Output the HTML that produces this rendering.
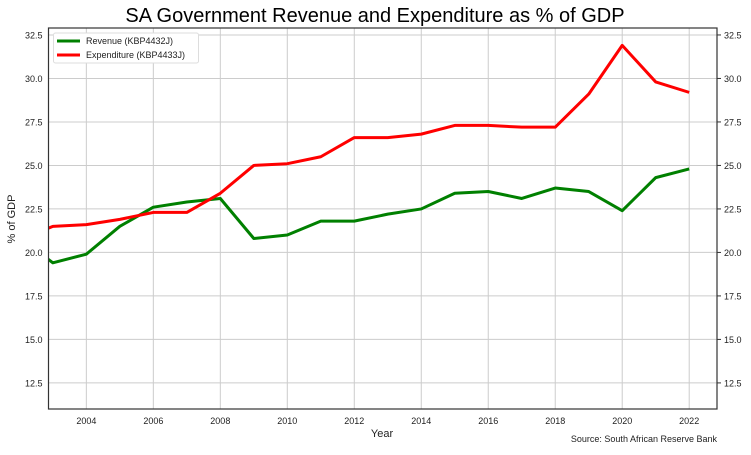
<!DOCTYPE html>
<html><head><meta charset="utf-8"><style>
body{margin:0;background:#fff;font-family:"Liberation Sans",sans-serif;}
svg text{font-family:"Liberation Sans",sans-serif;}
</style></head><body>
<svg id="c" width="751" height="450" xmlns="http://www.w3.org/2000/svg">
<rect width="751" height="450" fill="#fff"/>
<text x="375" y="22" font-size="20" text-anchor="middle" fill="#000">SA Government Revenue and Expenditure as % of GDP</text>
<defs><clipPath id="cp"><rect x="48.5" y="28" width="668.5" height="381"/></clipPath></defs>
<g id="grid"></g>
<g id="lines" clip-path="url(#cp)"></g>
<rect x="48.5" y="28" width="668.5" height="381" fill="none" stroke="#333" stroke-width="1.2"/>
<g id="ticks"></g>
<text x="382" y="437" font-size="11" text-anchor="middle" fill="#222">Year</text>
<text x="15" y="219" font-size="11" text-anchor="middle" fill="#222" transform="rotate(-90 15 219)">% of GDP</text>
<text x="717" y="442" font-size="9" text-anchor="end" fill="#222">Source: South African Reserve Bank</text>
<g>
<rect x="53.5" y="33" width="145" height="30" rx="2" fill="#fff" stroke="#ddd"/>
<line x1="57" y1="41" x2="80" y2="41" stroke="#008000" stroke-width="3"/>
<text x="86" y="44" font-size="9" fill="#222">Revenue (KBP4432J)</text>
<line x1="57" y1="55" x2="80" y2="55" stroke="#ff0000" stroke-width="3"/>
<text x="86" y="58" font-size="9" fill="#222">Expenditure (KBP4433J)</text>
</g>
</svg>
<script>
const years=[2002,2003,2004,2005,2006,2007,2008,2009,2010,2011,2012,2013,2014,2015,2016,2017,2018,2019,2020,2021,2022];
const revenue=[20.9,19.4,19.9,21.5,22.6,22.9,23.1,20.8,21.0,21.8,21.8,22.2,22.5,23.4,23.5,23.1,23.7,23.5,22.4,24.3,24.8];
const expenditure=[20.7,21.5,21.6,21.9,22.3,22.3,23.4,25.0,25.1,25.5,26.6,26.6,26.8,27.3,27.3,27.2,27.2,29.1,31.9,29.8,29.2];
const yTicks=[12.5,15.0,17.5,20.0,22.5,25.0,27.5,30.0,32.5];
const xTicks=[2004,2006,2008,2010,2012,2014,2016,2018,2020,2022];
const NS="http://www.w3.org/2000/svg";
const X0=48.5,X1=717,Y0=409,Y1=28,xmin=2002.87,xmax=2022.83,ymin=11.0,ymax=32.9;
const xs=v=>X0+(v-xmin)/(xmax-xmin)*(X1-X0);
const ys=v=>Y0-(v-ymin)/(ymax-ymin)*(Y0-Y1);
function mk(t,a,p){const e=document.createElementNS(NS,t);for(const k in a)e.setAttribute(k,a[k]);p.appendChild(e);return e;}
const g=document.getElementById('grid'),tk=document.getElementById('ticks'),ln=document.getElementById('lines');
yTicks.forEach(v=>{const y=ys(v);
const l=mk('line',{x1:X0,x2:X1,y1:y,y2:y,stroke:'#cccccc','stroke-width':1},g);


const t=mk('text',{x:X0-6,y:y+3.5,'font-size':9,'text-anchor':'end',fill:'#222'},tk);t.textContent=v.toFixed(1);


const m=mk('line',{x1:X1,x2:X1+4,y1:y,y2:y,stroke:'#333'},tk);


const t2=mk('text',{x:X1+7,y:y+3.5,'font-size':9,fill:'#222'},tk);t2.textContent=v.toFixed(1);


});
xTicks.forEach(v=>{const x=xs(v);
const l=mk('line',{x1:x,x2:x,y1:Y1,y2:Y0,stroke:'#cccccc','stroke-width':1},g);


const t=mk('text',{x:x,y:Y0+15,'font-size':9,'text-anchor':'middle',fill:'#222'},tk);t.textContent=v;


});
function series(vals,color,name){
const d=vals.map((v,i)=>(i?'L':'M')+xs(years[i]).toFixed(2)+','+ys(v).toFixed(2)).join(' ');
const p=mk('path',{d:d,fill:'none',stroke:color,'stroke-width':3,'stroke-linejoin':'round'},ln);


}
series(revenue,'#008000','revenue-line');
series(expenditure,'#ff0000','expenditure-line');
</script>
</body></html>
